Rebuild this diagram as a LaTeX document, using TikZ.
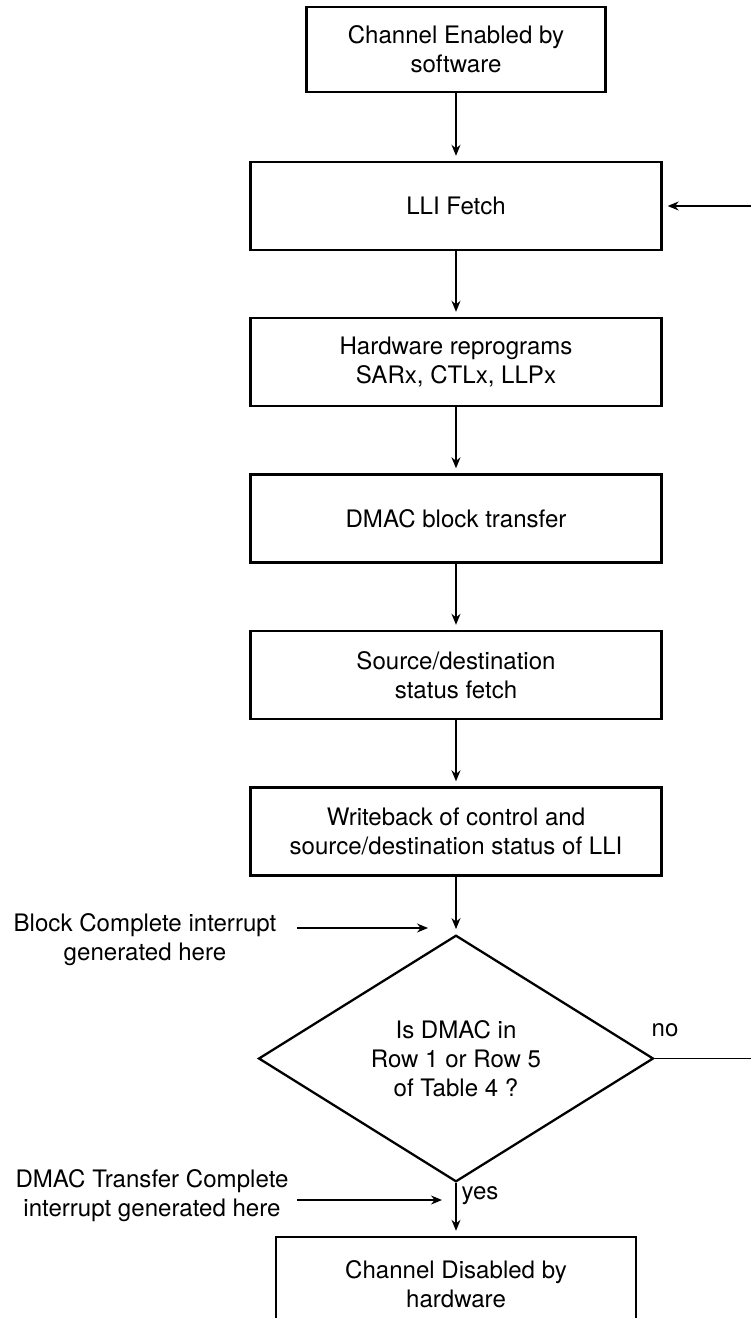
\documentclass[tikz,border=0pt]{standalone}
\usepackage{fontspec}
\setmainfont{TeX Gyre Heros}
\usetikzlibrary{shapes.geometric,arrows.meta}
\begin{document}
\begin{tikzpicture}[
    x=0.02cm, y=-0.02cm,
    every node/.style={font=\fontsize{13.7}{16.5}\selectfont, align=center},
    stepbox/.style={draw, line width=1.4pt, minimum width=8.22cm, minimum height=1.76cm, inner sep=0pt},
    decision/.style={draw, diamond, line width=1.3pt, minimum width=7.9cm, minimum height=4.38cm, inner sep=0pt},
    flow/.style={-{Stealth[length=2.2mm,width=1.8mm]}, line width=0.7pt, shorten >=1mm},
]
    \useasboundingbox (0,0) rectangle (751,1318);
    \clip (0,0) rectangle (751,1318);

    \node[stepbox, minimum width=5.98cm, minimum height=1.70cm] (en) at (456,49.5) {Channel Enabled by\\software};
    \node[stepbox] (fetch)  at (456,206)   {LLI Fetch};
    \node[stepbox] (reprog) at (456,362)   {Hardware reprograms\\SARx, CTLx, LLPx};
    \node[stepbox] (xfer)   at (456,518.5) {DMAC block transfer};
    \node[stepbox] (stat)   at (456,675)   {Source/destination\\status fetch};
    \node[stepbox] (wb)     at (456,831.5) {Writeback of control and\\source/destination status of LLI};
    \node[decision] (dec)   at (456,1058.5) {Is DMAC in\\Row 1 or Row 5\\of Table 4 ?};
    \node[stepbox, minimum width=7.2cm, minimum height=1.88cm] (dis) at (456,1284) {Channel Disabled by\\hardware};

    \node (blk)  at (145,939.5) {Block Complete interrupt\\generated here};
    \node (done) at (152,1196)  {DMAC Transfer Complete\\interrupt generated here};
    \node (no)   at (665,1030)  {no};
    \node (yes)  at (480,1196)  {yes};

    \coordinate (blkfrom)  at (297,928);
    \coordinate (blkto)    at (428,928);
    \coordinate (donefrom) at (297,1200);
    \coordinate (doneto)   at (442,1200);
    \coordinate (loopin)   at (751,206);
    \coordinate (noout)    at (751,1058.5);

    \foreach \a/\b in {en/fetch, fetch/reprog, reprog/xfer, xfer/stat, stat/wb, wb/dec, dec/dis}
        \draw[flow] (\a) -- (\b);
    \draw[flow] (loopin) -- (fetch);
    \draw[line width=0.7pt] (dec.east) -- (noout);
    \draw[flow, shorten >=0pt] (blkfrom) -- (blkto);
    \draw[flow, shorten >=0pt] (donefrom) -- (doneto);
\end{tikzpicture}
\end{document}
